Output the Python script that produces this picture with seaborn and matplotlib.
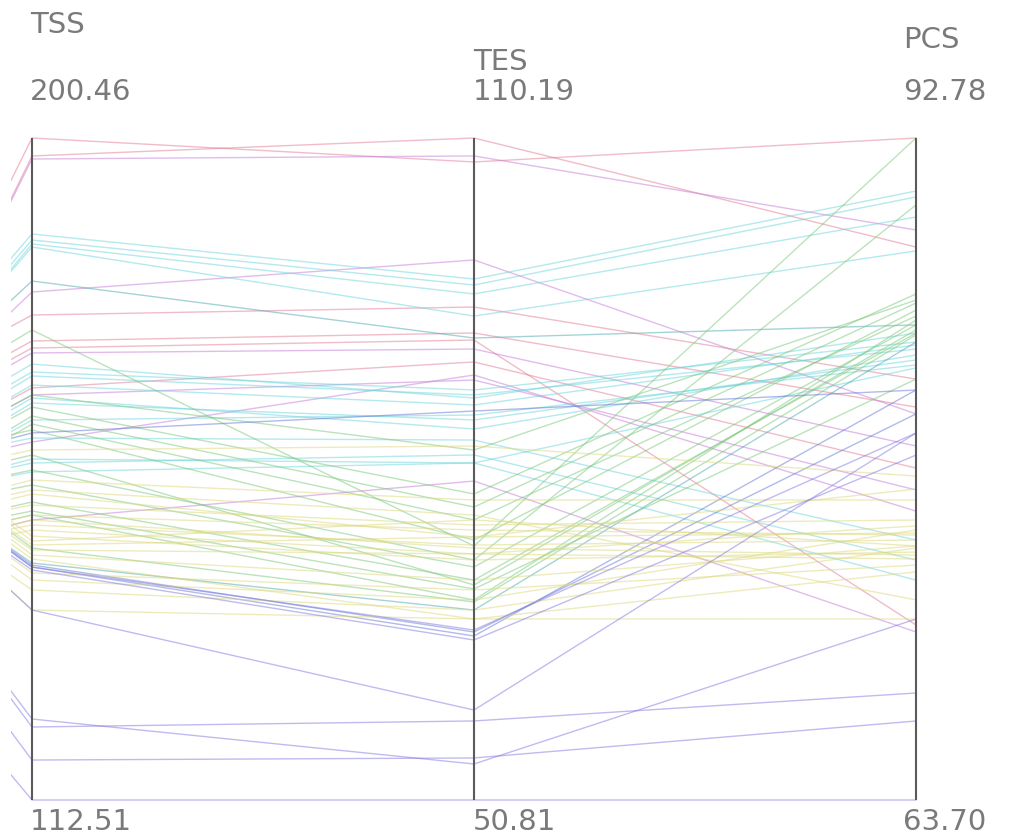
import numpy as np
import pandas as pd
import matplotlib
matplotlib.use("Agg")
import matplotlib.pyplot as plt
import seaborn as sns

# axis names and their ranges (bottom / top labels)
dims = ["TSS", "TES", "PCS"]
dim_min = [112.51, 50.81, 63.70]
dim_max = [200.46, 110.19, 92.78]

# one entry per sample
tss = [200.46, 198.07, 197.67, 187.71, 186.91, 186.38, 185.98, 181.46, 180.00, 176.94,
       174.95, 173.49, 171.90, 170.43, 169.37, 167.25, 165.92, 164.72, 163.53, 162.46,
       161.27, 160.07, 159.01, 157.81, 156.09, 154.36, 153.16, 152.10, 150.90, 149.71,
       148.38, 146.92, 146.39, 145.72, 145.06, 144.53, 144.00, 143.46, 143.46, 143.07,
       137.75, 137.75, 123.27, 122.21, 117.82, 168.84, 165.25, 157.28, 160.60, 155.02,
       151.70, 149.05, 147.58, 142.67, 141.74, 153.70, 166.32, 161.67, 150.37, 145.99,
       156.35, 172.56, 166.32, 143.73, 112.51, 167.64, 162.99, 150.37, 149.71, 140.41,
       158.34]
tes = [108.04, 110.19, 108.58, 97.54, 97.00, 96.20, 94.22, 92.25, 99.25, 95.03,
       73.59, 92.70, 91.26, 86.87, 87.59, 90.10, 84.09, 78.26, 77.09, 75.93,
       85.70, 88.93, 82.56, 81.04, 81.04, 71.71, 74.40, 70.54, 69.74, 79.42,
       72.88, 75.93, 74.40, 72.88, 70.54, 67.05, 67.85, 66.06, 65.52, 65.16,
       67.05, 58.88, 54.04, 57.90, 54.58, 87.14, 84.90, 81.76, 83.10, 77.72,
       75.48, 73.68, 72.34, 69.65, 68.75, 76.37, 82.20, 74.13, 68.75, 68.57,
       72.34, 92.07, 88.48, 65.88, 50.81, 86.24, 85.34, 75.03, 73.41, 67.85,
       70.10]
pcs = [92.78, 87.99, 88.74, 90.45, 90.19, 89.31, 87.82, 84.57, 80.66, 82.19,
       92.78, 80.96, 79.25, 84.21, 83.82, 78.28, 83.25, 85.93, 85.53, 84.96,
       81.71, 76.39, 77.93, 82.68, 73.36, 84.57, 77.36, 84.21, 82.19, 71.08,
       75.74, 74.86, 75.43, 74.29, 74.86, 73.72, 83.82, 79.82, 81.71, 78.85,
       71.65, 79.82, 71.65, 68.40, 67.17, 83.51, 83.03, 74.24, 75.12, 76.88,
       76.00, 75.12, 74.59, 74.02, 75.56, 72.49, 85.66, 85.22, 84.78, 84.13,
       89.84, 71.39, 77.32, 80.66, 63.70, 83.69, 82.81, 75.34, 74.46, 74.77,
       84.35]
# the axis just left of the crop (scaled 0..1), only its stubs show
prev = [0.73, 0.70, 0.70, 0.70, 0.69, 0.68, 0.68, 0.66, 0.64, 0.66,
        0.63, 0.62, 0.60, 0.58, 0.57, 0.55, 0.53, 0.52, 0.50, 0.49,
        0.52, 0.51, 0.50, 0.48, 0.47, 0.45, 0.43, 0.42, 0.41, 0.39,
        0.38, 0.49, 0.48, 0.47, 0.47, 0.46, 0.45, 0.45, 0.45, 0.44,
        0.41, 0.41, 0.30, 0.29, 0.24, 0.56, 0.52, 0.48, 0.52, 0.45,
        0.42, 0.39, 0.49, 0.44, 0.43, 0.44, 0.54, 0.53, 0.40, 0.48,
        0.47, 0.61, 0.54, 0.45, 0.16, 0.55, 0.50, 0.40, 0.39, 0.41,
        0.49]
group = ["red", "red", "magenta", "cyan", "cyan", "cyan", "cyan", "teal", "magenta", "red",
         "green", "red", "magenta", "cyan", "cyan", "red", "cyan", "green", "green", "green",
         "blue", "magenta", "yellow", "cyan", "cyan", "green", "yellow", "green", "green", "magenta",
         "yellow", "yellow", "yellow", "yellow", "yellow", "yellow", "teal", "purple", "blue", "purple",
         "yellow", "purple", "purple", "purple", "purple", "cyan", "cyan", "cyan", "cyan", "yellow",
         "yellow", "yellow", "yellow", "yellow", "yellow", "yellow", "green", "green", "green", "green",
         "green", "red", "magenta", "blue", "purple", "cyan", "cyan", "yellow", "yellow", "yellow",
         "green"]

palette = {"red": "#e27a92", "magenta": "#c47ad8", "cyan": "#6ad4dc",
           "teal": "#4aa8b0", "green": "#78c878", "yellow": "#dcd87a",
           "blue": "#6476d4", "purple": "#8078e2"}

# long-form table for seaborn, each axis scaled to 0..1
rows = []
for i in range(len(tss)):
    rows.append((i, -0.2, prev[i], group[i]))
    for j, vals in enumerate([tss, tes, pcs]):
        y = (vals[i] - dim_min[j]) / (dim_max[j] - dim_min[j])
        rows.append((i, j, y, group[i]))
df = pd.DataFrame(rows, columns=["id", "pos", "y", "group"])

W, H = 1015, 839
fig = plt.figure(figsize=(W / 100, H / 100), dpi=100)
ax = fig.add_axes([11 / W, 0, 1 - 11 / W, 1])

sns.lineplot(data=df, x="pos", y="y", units="id", hue="group", palette=palette,
             estimator=None, sort=False, legend=False, lw=1.0, alpha=0.5, ax=ax)

ax.vlines([0, 1, 2], 0, 1, color="#5a5a5a", lw=1.5, zorder=5)
ax.set_xlim((11 - 32) / 442, (W - 32) / 442)
ax.set_ylim((800 - H) / 662, 800 / 662)
ax.axis("off")

# axis names and range labels
txt = dict(color="#7a7a7a", fontsize=21, family="DejaVu Sans", va="center", ha="left")
fig.text(30 / W, 1 - 25 / H, dims[0], **txt)
fig.text(473 / W, 1 - 62 / H, dims[1], **txt)
fig.text(903 / W, 1 - 40 / H, dims[2], **txt)
fig.text(30 / W, 1 - 92 / H, f"{dim_max[0]:.2f}", **txt)
fig.text(473 / W, 1 - 92 / H, f"{dim_max[1]:.2f}", **txt)
fig.text(903 / W, 1 - 92 / H, f"{dim_max[2]:.2f}", **txt)
fig.text(30 / W, 1 - 822 / H, f"{dim_min[0]:.2f}", **txt)
fig.text(473 / W, 1 - 822 / H, f"{dim_min[1]:.2f}", **txt)
fig.text(903 / W, 1 - 822 / H, f"{dim_min[2]:.2f}", **txt)

fig.savefig("out.png", dpi=100, facecolor="white")
